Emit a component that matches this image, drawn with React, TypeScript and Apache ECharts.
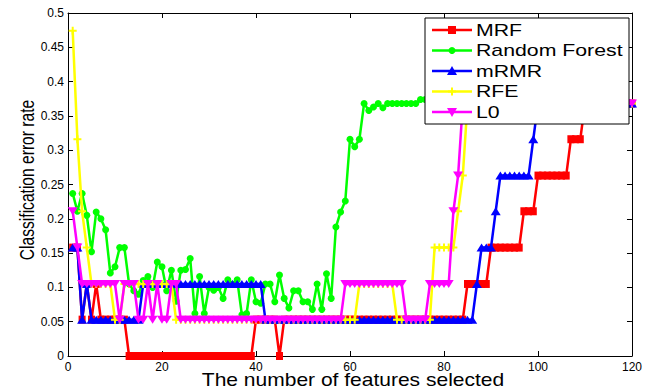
import React, { useEffect, useRef } from "react";
import * as echarts from "echarts";

// Classification error rate for 1..120 selected features, one value per feature count.
const SERIES_NAMES = ["MRF", "Random Forest", "mRMR", "RFE", "L0"];

const MRF = [
  0.158, 0.158, 0.053, 0.105, 0.053, 0.105, 0.053, 0.053, 0.053, 0.053,
  0.053, 0.053, 0, 0, 0, 0, 0, 0, 0, 0,
  0, 0, 0, 0, 0, 0, 0, 0, 0, 0,
  0, 0, 0, 0, 0, 0, 0, 0, 0, 0.053,
  0.053, 0.053, 0.053, 0.053, 0, 0.053, 0.053, 0.053, 0.053, 0.053,
  0.053, 0.053, 0.053, 0.053, 0.053, 0.053, 0.053, 0.053, 0.053, 0.053,
  0.053, 0.053, 0.053, 0.053, 0.053, 0.053, 0.053, 0.053, 0.053, 0.053,
  0.053, 0.053, 0.053, 0.053, 0.053, 0.053, 0.053, 0.053, 0.053, 0.053,
  0.053, 0.053, 0.053, 0.053, 0.105, 0.105, 0.105, 0.105, 0.105, 0.158,
  0.158, 0.158, 0.158, 0.158, 0.158, 0.158, 0.211, 0.211, 0.211, 0.263,
  0.263, 0.263, 0.263, 0.263, 0.263, 0.263, 0.316, 0.316, 0.316, 0.368,
  0.368, 0.368, 0.368, 0.368, 0.368, 0.368, 0.368, 0.368, 0.368, 0.368,
];

const RANDOM_FOREST = [
  0.237, 0.211, 0.237, 0.205, 0.152, 0.21, 0.2, 0.184, 0.121, 0.13,
  0.158, 0.158, 0.105, 0.095, 0.09, 0.11, 0.116, 0.1, 0.137, 0.13,
  0.095, 0.125, 0.08, 0.125, 0.126, 0.142, 0.062, 0.116, 0.062, 0.1,
  0.096, 0.1, 0.084, 0.111, 0.105, 0.111, 0.06, 0.062, 0.111, 0.079,
  0.077, 0.105, 0.105, 0.079, 0.118, 0.084, 0.07, 0.095, 0.095, 0.079,
  0.079, 0.068, 0.105, 0.068, 0.12, 0.084, 0.188, 0.21, 0.226, 0.316,
  0.305, 0.316, 0.368, 0.358, 0.363, 0.368, 0.362, 0.368, 0.368, 0.368,
  0.368, 0.368, 0.368, 0.368, 0.374, 0.374, 0.368, 0.368, 0.368, 0.368,
  0.368, 0.368, 0.368, 0.368, 0.368, 0.368, 0.368, 0.368, 0.368, 0.368,
  0.368, 0.368, 0.368, 0.368, 0.368, 0.368, 0.368, 0.368, 0.368, 0.368,
  0.368, 0.368, 0.368, 0.368, 0.368, 0.368, 0.368, 0.368, 0.368, 0.368,
  0.368, 0.368, 0.368, 0.368, 0.368, 0.368, 0.368, 0.368, 0.368, 0.368,
];

const MRMR = [
  0.158, 0.158, 0.053, 0.105, 0.053, 0.053, 0.053, 0.053, 0.053, 0.053,
  0.053, 0.053, 0.053, 0.053, 0.053, 0.105, 0.105, 0.105, 0.105, 0.105,
  0.105, 0.105, 0.105, 0.105, 0.105, 0.105, 0.105, 0.105, 0.105, 0.105,
  0.105, 0.105, 0.105, 0.105, 0.105, 0.105, 0.105, 0.105, 0.105, 0.105,
  0.105, 0.053, 0.053, 0.053, 0.053, 0.053, 0.053, 0.053, 0.053, 0.053,
  0.053, 0.053, 0.053, 0.053, 0.053, 0.053, 0.053, 0.053, 0.053, 0.053,
  0.053, 0.053, 0.053, 0.053, 0.053, 0.053, 0.053, 0.053, 0.053, 0.053,
  0.053, 0.053, 0.053, 0.053, 0.053, 0.053, 0.053, 0.053, 0.053, 0.053,
  0.053, 0.053, 0.053, 0.053, 0.053, 0.053, 0.105, 0.158, 0.158, 0.158,
  0.211, 0.263, 0.263, 0.263, 0.263, 0.263, 0.263, 0.263, 0.316, 0.368,
  0.368, 0.368, 0.368, 0.368, 0.368, 0.368, 0.368, 0.368, 0.368, 0.368,
  0.368, 0.368, 0.368, 0.368, 0.368, 0.368, 0.368, 0.368, 0.368, 0.368,
];

const RFE = [
  0.474, 0.316, 0.211, 0.158, 0.105, 0.105, 0.105, 0.105, 0.105, 0.053,
  0.053, 0.105, 0.105, 0.105, 0.105, 0.105, 0.105, 0.105, 0.105, 0.105,
  0.105, 0.105, 0.053, 0.053, 0.053, 0.053, 0.053, 0.053, 0.053, 0.053,
  0.053, 0.053, 0.053, 0.053, 0.053, 0.053, 0.053, 0.053, 0.053, 0.053,
  0.053, 0.053, 0.053, 0.053, 0.053, 0.053, 0.053, 0.053, 0.053, 0.053,
  0.053, 0.053, 0.053, 0.053, 0.053, 0.053, 0.053, 0.053, 0.053, 0.053,
  0.053, 0.105, 0.105, 0.105, 0.105, 0.105, 0.105, 0.105, 0.105, 0.053,
  0.053, 0.053, 0.053, 0.053, 0.053, 0.053, 0.053, 0.158, 0.158, 0.158,
  0.158, 0.158, 0.211, 0.263, 0.368, 0.368, 0.368, 0.368, 0.368, 0.368,
  0.368, 0.368, 0.368, 0.368, 0.368, 0.368, 0.368, 0.368, 0.368, 0.368,
  0.368, 0.368, 0.368, 0.368, 0.368, 0.368, 0.368, 0.368, 0.368, 0.368,
  0.368, 0.368, 0.368, 0.368, 0.368, 0.368, 0.368, 0.368, 0.368, 0.368,
];

const L0 = [
  0.211, 0.158, 0.105, 0.105, 0.105, 0.105, 0.105, 0.105, 0.105, 0.105,
  0.053, 0.105, 0.105, 0.105, 0.053, 0.053, 0.105, 0.053, 0.105, 0.053,
  0.053, 0.105, 0.105, 0.053, 0.053, 0.053, 0.053, 0.053, 0.053, 0.053,
  0.053, 0.053, 0.053, 0.053, 0.053, 0.053, 0.053, 0.053, 0.053, 0.053,
  0.053, 0.053, 0.053, 0.053, 0.053, 0.053, 0.053, 0.053, 0.053, 0.053,
  0.053, 0.053, 0.053, 0.053, 0.053, 0.053, 0.053, 0.053, 0.105, 0.105,
  0.105, 0.105, 0.105, 0.105, 0.105, 0.105, 0.105, 0.105, 0.105, 0.105,
  0.105, 0.053, 0.053, 0.053, 0.053, 0.053, 0.105, 0.105, 0.105, 0.105,
  0.105, 0.211, 0.263, 0.368, 0.368, 0.368, 0.368, 0.368, 0.368, 0.368,
  0.368, 0.368, 0.368, 0.368, 0.368, 0.368, 0.368, 0.368, 0.368, 0.368,
  0.368, 0.368, 0.368, 0.368, 0.368, 0.368, 0.368, 0.368, 0.368, 0.368,
  0.368, 0.368, 0.368, 0.368, 0.368, 0.368, 0.368, 0.368, 0.368, 0.368,
];

const SERIES_VALUES = [MRF, RANDOM_FOREST, MRMR, RFE, L0];

const X_TICKS = { min: 0, max: 120, interval: 20 };
const Y_TICKS = { min: 0, max: 0.5, interval: 0.05 };

const X_TITLE = "The number of features selected";
const Y_TITLE = "Classification error rate";

// Marker look for each method, MATLAB-style
const PLUS_PATH = "path://M3,0h2v3h3v2h-3v3h-2v-3h-3v-2h3z";
const STYLES = [
  { color: "#ff0000", symbol: "rect", size: [7, 8], rotate: 0 },
  { color: "#00ff00", symbol: "circle", size: 7, rotate: 0 },
  { color: "#0000ff", symbol: "triangle", size: [10, 8], rotate: 0 },
  { color: "#ffff00", symbol: PLUS_PATH, size: 8, rotate: 0 },
  { color: "#ff00ff", symbol: "triangle", size: [10, 8], rotate: 180 },
];

const FONT = "Liberation Sans, Arial, Helvetica, sans-serif";
const LEGEND_Z = 100;

function legendElements() {
  const left = 425;
  const top = 18;
  const width = 204;
  const height = 106;
  const els: any[] = [
    {
      type: "rect",
      z: LEGEND_Z,
      shape: { x: left, y: top, width, height },
      style: { fill: "#fff", stroke: "#000", lineWidth: 1 },
    },
  ];
  SERIES_NAMES.forEach((name, i) => {
    const y = top + 12 + i * 20.5;
    const s = STYLES[i];
    const mx = 452;
    els.push({
      type: "line",
      z: LEGEND_Z + 1,
      shape: { x1: 432, y1: y, x2: 472, y2: y },
      style: { stroke: s.color, lineWidth: 2.5 },
    });
    let marker: any;
    if (i === 0) {
      marker = { type: "rect", shape: { x: mx - 4, y: y - 4, width: 8, height: 8 }, style: { fill: s.color } };
    } else if (i === 1) {
      marker = { type: "circle", shape: { cx: mx, cy: y, r: 3.5 }, style: { fill: s.color } };
    } else if (i === 2) {
      marker = {
        type: "polygon",
        shape: { points: [[mx - 5, y + 4], [mx + 5, y + 4], [mx, y - 5]] },
        style: { fill: s.color },
      };
    } else if (i === 3) {
      marker = {
        type: "polygon",
        shape: {
          points: [
            [mx - 1, y - 4], [mx + 1, y - 4], [mx + 1, y - 1], [mx + 4, y - 1], [mx + 4, y + 1],
            [mx + 1, y + 1], [mx + 1, y + 4], [mx - 1, y + 4], [mx - 1, y + 1], [mx - 4, y + 1],
            [mx - 4, y - 1], [mx - 1, y - 1],
          ],
        },
        style: { fill: s.color },
      };
    } else {
      marker = {
        type: "polygon",
        shape: { points: [[mx - 5, y - 4], [mx + 5, y - 4], [mx, y + 5]] },
        style: { fill: s.color },
      };
    }
    marker.z = LEGEND_Z + 2;
    els.push(marker);
    els.push({
      type: "text",
      z: LEGEND_Z + 2,
      x: 476,
      y,
      scaleX: 1.33,
      style: {
        text: name,
        fill: "#000",
        font: `16px ${FONT}`,
        textAlign: "left",
        textVerticalAlign: "middle",
        verticalAlign: "middle",
      },
    });
  });
  return els;
}

function axisCommon(showLabel: boolean) {
  return {
    axisLine: { show: true, onZero: false, lineStyle: { color: "#000", width: 1 } },
    axisTick: { show: true, inside: true, length: 5, lineStyle: { color: "#000", width: 1 } },
    axisLabel: {
      show: showLabel,
      color: "#000",
      fontSize: 12,
      fontFamily: FONT,
      margin: 5,
    },
    splitLine: { show: false },
  };
}

const fmt = (v: number) => String(Math.round(v * 100) / 100);

export default function App() {
  const ref = useRef<HTMLDivElement>(null);

  useEffect(() => {
    if (!ref.current) return;
    const chart = echarts.init(ref.current, null, { renderer: "svg" });
    const option: any = {
      animation: false,
      backgroundColor: "#fff",
      grid: { left: 68, right: 9.5, top: 13, bottom: 36, containLabel: false },
      xAxis: [
        { type: "value", position: "bottom", ...X_TICKS, ...axisCommon(true) },
        { type: "value", position: "top", ...X_TICKS, ...axisCommon(false) },
      ],
      yAxis: [
        {
          type: "value",
          position: "left",
          ...Y_TICKS,
          ...axisCommon(true),
          axisLabel: { ...axisCommon(true).axisLabel, formatter: fmt, margin: 4 },
        },
        { type: "value", position: "right", ...Y_TICKS, ...axisCommon(false) },
      ],
      series: SERIES_NAMES.map((name, k) => ({
        type: "line",
        name,
        xAxisIndex: 0,
        yAxisIndex: 0,
        data: SERIES_VALUES[k].map((v, i) => [i + 1, v]),
        symbol: STYLES[k].symbol,
        symbolSize: STYLES[k].size,
        symbolRotate: STYLES[k].rotate,
        showAllSymbol: true,
        clip: false,
        z: 2 + k,
        lineStyle: { color: STYLES[k].color, width: 2.5 },
        itemStyle: { color: STYLES[k].color, borderWidth: 0 },
        emphasis: { disabled: true },
        silent: true,
      })),
      graphic: {
        elements: [
          {
            type: "text",
            x: 353,
            y: 379.5,
            scaleX: 1.13,
            style: {
              text: X_TITLE,
              fill: "#000",
              font: `18.6px ${FONT}`,
              textAlign: "center",
              textVerticalAlign: "middle",
              verticalAlign: "middle",
            },
          },
          {
            type: "text",
            x: 27.5,
            y: 180,
            rotation: Math.PI / 2,
            scaleY: 1.3,
            style: {
              text: Y_TITLE,
              fill: "#000",
              font: `15.6px ${FONT}`,
              textAlign: "center",
              textVerticalAlign: "middle",
              verticalAlign: "middle",
            },
          },
          ...legendElements(),
        ],
      },
    };
    chart.setOption(option);
    return () => chart.dispose();
  }, []);

  return (
    <div
      ref={ref}
      style={{ position: "fixed", left: 0, top: 0, width: 645, height: 392, background: "#fff" }}
    />
  );
}
